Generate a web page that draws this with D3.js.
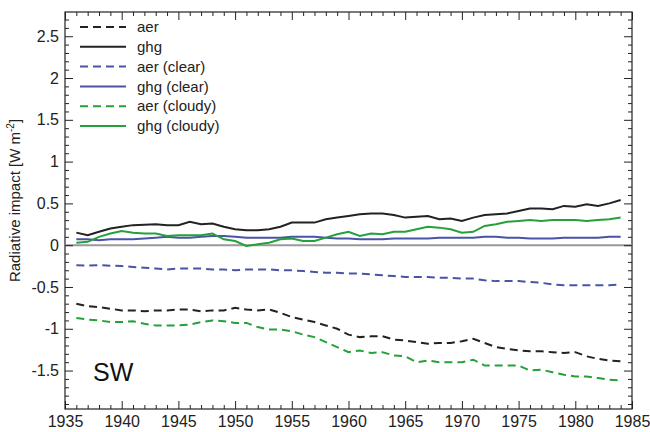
<!DOCTYPE html>
<html>
<head>
<meta charset="utf-8">
<script src="https://cdn.jsdelivr.net/npm/d3@7"></script>
<style>
	body { margin: 0; background: #fff; }
	svg { display: block; font-family: "Liberation Sans", Arial, sans-serif; }
	.axis path { display: none; }
	.axis line { stroke: #222; stroke-width: 1; }
	.axis text { fill: #222; font-size: 16px; }
</style>
</head>
<body>
<svg id="viz" width="650" height="432"></svg>
<script>
// annual values, 1936-1984
var years = d3.range(1936, 1985);

var aer = [-0.70, -0.73, -0.74, -0.76, -0.78, -0.78, -0.79, -0.78, -0.78, -0.77,
	-0.77, -0.79, -0.78, -0.78, -0.75, -0.77, -0.78, -0.77, -0.81, -0.86,
	-0.89, -0.92, -0.96, -1.00, -1.07, -1.10, -1.09, -1.09, -1.13, -1.14,
	-1.16, -1.18, -1.17, -1.17, -1.15, -1.12, -1.17, -1.22, -1.24, -1.26,
	-1.27, -1.27, -1.28, -1.29, -1.28, -1.33, -1.36, -1.38, -1.39];
var ghg = [0.15, 0.12, 0.16, 0.20, 0.22, 0.24, 0.245, 0.25, 0.24, 0.24,
	0.28, 0.25, 0.26, 0.22, 0.19, 0.18, 0.18, 0.19, 0.22, 0.27,
	0.27, 0.27, 0.31, 0.33, 0.35, 0.37, 0.38, 0.38, 0.36, 0.33,
	0.34, 0.35, 0.31, 0.32, 0.29, 0.33, 0.36, 0.37, 0.38, 0.41,
	0.44, 0.44, 0.43, 0.47, 0.46, 0.49, 0.47, 0.50, 0.54];
var aerClear = [-0.24, -0.245, -0.24, -0.245, -0.25, -0.26, -0.27, -0.28, -0.29, -0.28,
	-0.28, -0.28, -0.29, -0.29, -0.30, -0.29, -0.29, -0.29, -0.30, -0.30,
	-0.31, -0.32, -0.33, -0.33, -0.34, -0.34, -0.35, -0.36, -0.37, -0.38,
	-0.38, -0.38, -0.39, -0.39, -0.40, -0.40, -0.42, -0.43, -0.43, -0.43,
	-0.44, -0.45, -0.47, -0.48, -0.48, -0.48, -0.48, -0.48, -0.47];
var ghgClear = [0.07, 0.07, 0.06, 0.07, 0.07, 0.07, 0.08, 0.09, 0.10, 0.09,
	0.09, 0.10, 0.11, 0.11, 0.10, 0.09, 0.09, 0.09, 0.09, 0.10,
	0.10, 0.10, 0.09, 0.08, 0.08, 0.07, 0.07, 0.07, 0.08, 0.08,
	0.08, 0.08, 0.09, 0.09, 0.09, 0.09, 0.10, 0.10, 0.09, 0.09,
	0.08, 0.08, 0.08, 0.09, 0.09, 0.09, 0.09, 0.10, 0.10];
var aerCloudy = [-0.87, -0.89, -0.90, -0.92, -0.92, -0.91, -0.94, -0.96, -0.96, -0.96,
	-0.95, -0.92, -0.90, -0.91, -0.93, -0.93, -0.98, -1.01, -1.01, -1.03,
	-1.07, -1.10, -1.16, -1.22, -1.28, -1.26, -1.29, -1.28, -1.32, -1.33,
	-1.40, -1.38, -1.40, -1.40, -1.40, -1.37, -1.44, -1.44, -1.44, -1.44,
	-1.50, -1.49, -1.52, -1.55, -1.57, -1.57, -1.59, -1.61, -1.62];
var ghgCloudy = [0.03, 0.04, 0.10, 0.14, 0.17, 0.15, 0.14, 0.14, 0.11, 0.12,
	0.12, 0.12, 0.14, 0.07, 0.05, -0.01, 0.01, 0.03, 0.07, 0.08,
	0.05, 0.05, 0.09, 0.13, 0.16, 0.11, 0.14, 0.13, 0.16, 0.16,
	0.19, 0.22, 0.21, 0.19, 0.15, 0.16, 0.23, 0.25, 0.28, 0.29,
	0.30, 0.29, 0.30, 0.30, 0.30, 0.29, 0.30, 0.31, 0.33];

var seriesNames = ["aer", "ghg", "aer (clear)", "ghg (clear)", "aer (cloudy)", "ghg (cloudy)"];
var seriesValues = [aer, ghg, aerClear, ghgClear, aerCloudy, ghgCloudy];
var seriesColors = ["#222222", "#222222", "#4854a6", "#4854a6", "#25a03a", "#25a03a"];
var seriesDashed = [true, false, true, false, true, false];

var xTicks = d3.range(1935, 1986, 5);
var yTicks = [-1.5, -1, -0.5, 0, 0.5, 1, 1.5, 2, 2.5];

var svg = d3.select("#viz"),
	plotLeft = 65, plotRight = 632, plotTop = 12, plotBottom = 409;

var x = d3.scaleLinear().domain([1935, 1985]).range([plotLeft, plotRight]);
var y = d3.scaleLinear().domain([-1.96, 2.79]).range([plotBottom, plotTop]);

// frame
svg.append("rect")
	.attr("x", plotLeft).attr("y", plotTop)
	.attr("width", plotRight - plotLeft).attr("height", plotBottom - plotTop)
	.attr("fill", "none").attr("stroke", "#222").attr("stroke-width", 1.2);

// zero line
svg.append("line")
	.attr("x1", plotLeft).attr("x2", plotRight)
	.attr("y1", y(0)).attr("y2", y(0))
	.attr("stroke", "#999").attr("stroke-width", 2);

// minor ticks
var xMinor = d3.range(1935, 1986, 1).filter(function (d) { return d % 5 != 0; });
var yMinor = d3.range(-19, 28, 1).map(function (d) { return d / 10; }).filter(function (d) { return Math.round(d * 10) % 5 != 0; });

function addAxis(axis, tx, ty) {
	svg.append("g").attr("class", "axis")
		.attr("transform", "translate(" + tx + "," + ty + ")")
		.call(axis);
}
addAxis(d3.axisBottom(x).tickValues(xTicks).tickSize(-8).tickPadding(7).tickFormat(d3.format("d")), 0, plotBottom);
addAxis(d3.axisBottom(x).tickValues(xMinor).tickSize(-4).tickFormat(""), 0, plotBottom);
addAxis(d3.axisTop(x).tickValues(xTicks).tickSize(-8).tickFormat(""), 0, plotTop);
addAxis(d3.axisTop(x).tickValues(xMinor).tickSize(-4).tickFormat(""), 0, plotTop);
addAxis(d3.axisLeft(y).tickValues(yTicks).tickSize(-8).tickPadding(6).tickFormat(function (d) { return String(d); }), plotLeft, 0);
addAxis(d3.axisLeft(y).tickValues(yMinor).tickSize(-4).tickFormat(""), plotLeft, 0);
addAxis(d3.axisRight(y).tickValues(yTicks).tickSize(-8).tickFormat(""), plotRight, 0);
addAxis(d3.axisRight(y).tickValues(yMinor).tickSize(-4).tickFormat(""), plotRight, 0);

// y label
var ylab = svg.append("text")
	.attr("transform", "translate(20," + ((plotTop + plotBottom) / 2 - 10) + ") rotate(-90)")
	.attr("text-anchor", "middle")
	.attr("font-size", 15)
	.attr("fill", "#222");
ylab.append("tspan").text("Radiative impact [W m");
ylab.append("tspan").attr("dy", -6).attr("font-size", 10).text("-2");
ylab.append("tspan").attr("dy", 6).text("]");

// series
var line = d3.line()
	.x(function (d, i) { return x(years[i]); })
	.y(function (d) { return y(d); });

seriesValues.forEach(function (vals, i) {
	svg.append("path")
		.attr("d", line(vals))
		.attr("fill", "none")
		.attr("stroke", seriesColors[i])
		.attr("stroke-width", 2)
		.attr("stroke-dasharray", seriesDashed[i] ? "8,5" : null);
});

// legend
var legend = svg.append("g").selectAll("g")
	.data(seriesNames)
	.enter().append("g")
	.attr("transform", function (d, i) { return "translate(80," + (27 + i * 19.8) + ")"; });
legend.append("line")
	.attr("x1", 0).attr("x2", 46)
	.attr("stroke", function (d, i) { return seriesColors[i]; })
	.attr("stroke-width", 2)
	.attr("stroke-dasharray", function (d, i) { return seriesDashed[i] ? "8,5" : null; });
legend.append("text")
	.attr("x", 57).attr("dy", "0.35em")
	.attr("font-size", 15)
	.attr("fill", "#222")
	.text(function (d) { return d; });

svg.append("text")
	.attr("x", 93).attr("y", 381)
	.attr("font-size", 25)
	.attr("fill", "#111")
	.text("SW");
</script>
</body>
</html>
